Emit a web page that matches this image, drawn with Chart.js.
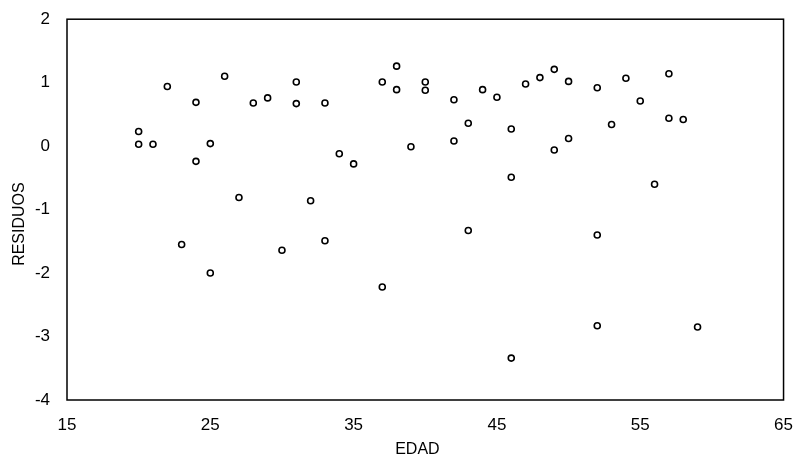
<!DOCTYPE html>
<html>
<head>
<meta charset="utf-8">
<script src="https://cdn.jsdelivr.net/npm/chart.js@4/dist/chart.umd.min.js"></script>
<style>
  html, body { margin: 0; padding: 0; background: #fff; }
  #wrap { width: 800px; height: 464px; }
</style>
</head>
<body>
<div id="wrap"><canvas id="residuos"></canvas></div>
<script>
// EDAD (age) and RESIDUOS
const edad = [20, 20, 21, 22, 23, 24, 24, 25, 25, 26, 27, 28, 29, 30, 31, 31, 32, 33, 33, 34,
  35, 37, 37, 38, 38, 39, 40, 40, 42, 42, 43, 43, 44, 45, 46, 46, 46, 47, 48, 49,
  49, 50, 50, 52, 52, 52, 53, 54, 55, 56, 57, 57, 58, 59];
const residuos = [0.23, 0.03, 0.03, 0.94, -1.55, 0.69, -0.24, 0.04, -2.0, 1.10, -0.81, 0.68, 0.76, -1.64, 1.01, 0.67, -0.86, 0.68, -1.49, -0.12,
  -0.28, 1.01, -2.22, 1.26, 0.89, -0.01, 1.01, 0.88, 0.73, 0.08, 0.36, -1.33, 0.89, 0.77, 0.27, -0.49, -3.34, 0.98, 1.08, 1.21,
  -0.06, 1.02, 0.12, 0.92, -1.40, -2.83, 0.34, 1.07, 0.71, -0.60, 1.14, 0.44, 0.42, -2.85];
const xTicks = [15, 25, 35, 45, 55, 65];
const yTicks = [-4, -3, -2, -1, 0, 1, 2];
const xTitle = 'EDAD';
const yTitle = 'RESIDUOS';

const points = edad.map((e, i) => ({ x: e, y: residuos[i] }));
const font = 'Liberation Sans';

// box round the plot and the two axis titles
const frame = {
  id: 'frame',
  afterDraw(chart) {
    const a = chart.chartArea, c = chart.ctx;
    c.save();
    c.strokeStyle = '#000';
    c.lineWidth = 1.5;
    c.strokeRect(a.left, a.top, a.right - a.left, a.bottom - a.top);
    c.fillStyle = '#000';
    c.font = '16px "' + font + '"';
    c.textAlign = 'center';
    c.textBaseline = 'middle';
    c.fillText(xTitle, a.left + (a.right - a.left) * 0.489, a.bottom + 50);
    c.translate(20, a.top + (a.bottom - a.top) * 0.538);
    c.rotate(-Math.PI / 2);
    c.fillText(yTitle, 0, 0);
    c.restore();
  }
};

new Chart(document.getElementById('residuos'), {
  type: 'scatter',
  data: {
    datasets: [{
      data: points,
      pointRadius: 3,
      pointHoverRadius: 3,
      pointBorderWidth: 1.6,
      pointBorderColor: '#000',
      pointBackgroundColor: '#fff'
    }]
  },
  options: {
    responsive: true,
    maintainAspectRatio: false,
    animation: false,
    layout: { padding: { left: 0, right: 14, top: 14, bottom: 0 } },
    plugins: { legend: { display: false }, tooltip: { enabled: false } },
    scales: {
      x: {
        type: 'linear', min: 15, max: 65,
        afterBuildTicks: s => { s.ticks = xTicks.map(v => ({ value: v })); },
        afterFit: s => { s.height = 64; },
        grid: { display: false },
        border: { display: false },
        ticks: { color: '#000', padding: 7, font: { family: font, size: 17 } }
      },
      y: {
        type: 'linear', min: -4, max: 2,
        afterBuildTicks: s => { s.ticks = yTicks.map(v => ({ value: v })); },
        afterFit: s => { s.width = 67; },
        grid: { display: false },
        border: { display: false },
        ticks: { color: '#000', padding: 9, font: { family: font, size: 17 } }
      }
    }
  },
  plugins: [frame]
});
</script>
</body>
</html>
